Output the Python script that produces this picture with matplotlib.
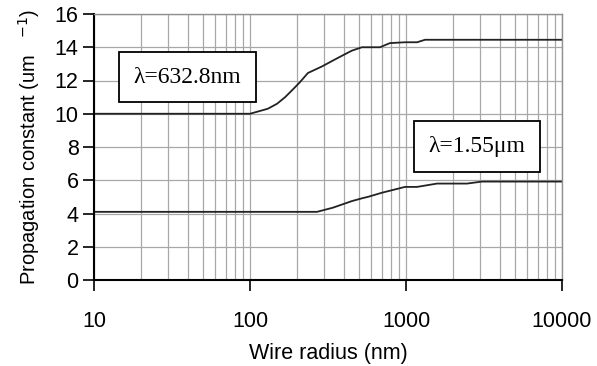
import matplotlib.pyplot as plt
from matplotlib.ticker import LogLocator, NullFormatter

# wire radius (nm) and propagation constant (um^-1)
r_633 = [10, 100, 130, 149, 168, 190, 209, 235, 290, 340, 400, 451, 522, 681, 789, 986, 1178, 1324, 10000]
b_633 = [10.0, 10.0, 10.3, 10.6, 11.0, 11.5, 11.9, 12.45, 12.85, 13.2, 13.55, 13.8, 14.0, 14.0, 14.25, 14.3, 14.3, 14.45, 14.45]

r_1550 = [10, 269, 340, 451, 530, 570, 701, 986, 1178, 1581, 2460, 3069, 10000]
b_1550 = [4.1, 4.1, 4.35, 4.75, 4.93, 5.0, 5.25, 5.6, 5.6, 5.8, 5.8, 5.92, 5.92]

x_ticks = [10, 100, 1000, 10000]
x_labels = ['10', '100', '1000', '10000']
y_ticks = [0, 2, 4, 6, 8, 10, 12, 14, 16]

plt.rcParams['font.family'] = ['Liberation Sans', 'DejaVu Sans']

fig = plt.figure(figsize=(5.97, 3.66), dpi=100)
ax = fig.add_axes([94 / 597, 1 - 280 / 366, 468 / 597, 266 / 366])

ax.plot(r_633, b_633, color='#222222', lw=1.3)
ax.plot(r_1550, b_1550, color='#222222', lw=1.3)

ax.set_xscale('log')
ax.set_xlim(10, 10000)
ax.set_ylim(0, 16)
ax.set_xticks(x_ticks)
ax.set_xticklabels(x_labels)
ax.xaxis.set_minor_locator(LogLocator(base=10, subs=range(2, 10)))
ax.xaxis.set_minor_formatter(NullFormatter())
ax.set_yticks(y_ticks)

ax.grid(True, which='both', axis='x', color='#a8a8a8', lw=0.9)
ax.grid(True, which='major', axis='y', color='#a8a8a8', lw=0.9)
ax.set_axisbelow(True)

for s in ['top', 'right']:
    ax.spines[s].set_color('#909090')
    ax.spines[s].set_linewidth(1.0)
for s in ['left', 'bottom']:
    ax.spines[s].set_color('black')
    ax.spines[s].set_linewidth(1.5)

ax.tick_params(axis='both', which='major', direction='out', length=8, width=1.2, labelsize=15.5)
ax.tick_params(axis='x', which='major', pad=14)
ax.tick_params(axis='y', which='major', pad=3)
ax.tick_params(axis='x', which='minor', length=0)

ax.set_xlabel('Wire radius (nm)', fontsize=15.5, labelpad=8)
ax.set_ylabel('Propagation constant (um   $^{-1}$)', fontsize=14.5, labelpad=9)

box = dict(boxstyle='square,pad=0.62', fc='white', ec='black', lw=1.3)
ax.text(39.7, 12.2, '\u03bb=632.8nm', family=['Liberation Serif', 'DejaVu Serif'],
        fontsize=17, ha='center', va='center', bbox=box)
ax.text(2850, 8.03, '\u03bb=1.55\u03bcm', family=['Liberation Serif', 'DejaVu Serif'],
        fontsize=17, ha='center', va='center', bbox=box)

fig.savefig('out.png', dpi=100)
